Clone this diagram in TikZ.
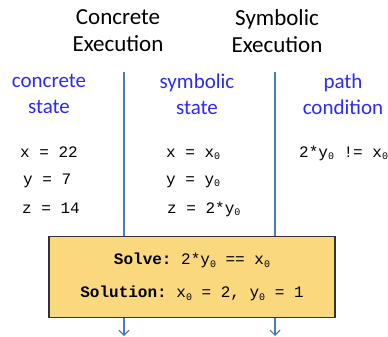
\documentclass[tikz,border=0pt]{standalone}
\usepackage{fontspec}
\setmainfont{Carlito}
\setmonofont{Liberation Mono}
\usetikzlibrary{arrows.meta}
\definecolor{lineblue}{HTML}{4A7EB0}
\definecolor{labelblue}{HTML}{2B2BF5}
\definecolor{boxfill}{HTML}{FAD87E}
\newcommand{\zs}{\raisebox{-0.35ex}{\fontsize{10}{10}\selectfont 0}}
\tikzset{
  every picture/.style={
    x=1pt, y=-1pt
  },
  heading/.style={
    align=center, font=\fontsize{23}{27}\selectfont
  },
  colhead/.style={
    align=center, text=labelblue, font=\fontsize{21}{26}\selectfont
  },
  code/.style={
    anchor=base west, inner sep=0pt, font=\ttfamily\fontsize{16}{18}\selectfont
  },
  solvebox/.style={
    draw=black!80, fill=boxfill, line width=1.1pt, minimum width=286pt,
    minimum height=81pt, align=center,
    font=\ttfamily\fontsize{16}{33}\selectfont
  },
  flow/.style={
    draw=lineblue, line width=1.2pt,
    -{Straight Barb[length=5pt, width=10pt]}
  }
}
\begin{document}
\begin{tikzpicture}
  \useasboundingbox (0,0) rectangle (388,337);
  \node[heading] (cexec) at (118,31) {Concrete\\Execution};
  \node[heading] (sexec) at (277,31) {Symbolic\\Execution};
  \coordinate (ctop) at (124,72);
  \coordinate (stop) at (275,72);
  \coordinate (cbot) at (124,336);
  \coordinate (sbot) at (275,336);
  \draw[flow] (ctop) -- (cbot);
  \draw[flow] (stop) -- (sbot);
  \node[colhead] (cstate) at (49,94) {concrete\\state};
  \node[colhead] (sstate) at (197,94) {symbolic\\state};
  \node[colhead] (pcond) at (343,94) {path\\condition};
  % concrete values
  \node[code] (cx) at (20,157) {x = 22};
  \node[code] (cy) at (23,184) {y = 7};
  \node[code] (cz) at (22,213) {z = 14};
  % symbolic values
  \node[code] (sx) at (166,157) {x = x\zs};
  \node[code] (sy) at (166,184) {y = y\zs};
  \node[code] (sz) at (167,213) {z = 2*y\zs};
  \node[code] (pc) at (299,157) {2*y\zs{} != x\zs};
  \node[solvebox] (solve) at (192,277)
    {\textbf{Solve:} 2*y\zs{} == x\zs\\\textbf{Solution:} x\zs{} = 2, y\zs{} = 1};
\end{tikzpicture}
\end{document}
